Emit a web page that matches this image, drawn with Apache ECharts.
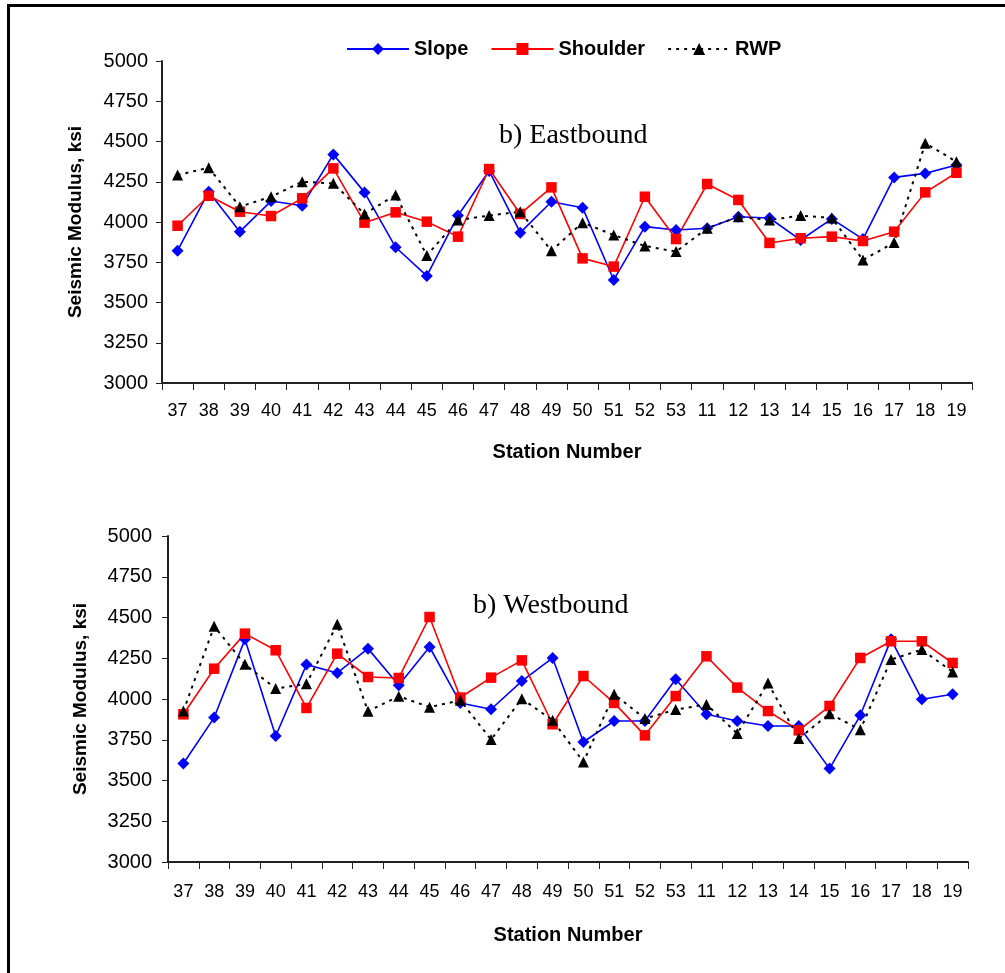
<!DOCTYPE html>
<html>
<head>
<meta charset="utf-8">
<script src="https://cdn.jsdelivr.net/npm/echarts@6/dist/echarts.min.js"></script>
<style>
  html, body { margin: 0; padding: 0; background: #fff; }
  #chart { width: 1005px; height: 973px; }
</style>
</head>
<body>
<div id="chart"></div>
<script>
// station labels along the x axis
let stations = ['37', '38', '39', '40', '41', '42', '43', '44', '45', '46', '47', '48', '49', '50', '51', '52', '53',
  '11', '12', '13', '14', '15', '16', '17', '18', '19']
let yTicks = [3000, 5000, 250] // min, max, interval

// Eastbound
let eastSlope = [3822, 4188, 3940, 4130, 4101, 4420, 4184, 3843, 3665, 4040, 4317, 3934, 4126, 4089, 3640, 3971, 3950,
  3961, 4033, 4025, 3888, 4019, 3894, 4277, 4302, 4354]
let eastShoulder = [3977, 4163, 4064, 4037, 4147, 4333, 3996, 4060, 4002, 3909, 4329, 4050, 4215, 3774, 3723, 4157, 3894,
  4236, 4137, 3870, 3899, 3909, 3882, 3940, 4184, 4306]
let eastRwp = [4292, 4337, 4095, 4157, 4250, 4240, 4050, 4168, 3792, 4012, 4040, 4064, 3822, 3996, 3919, 3851, 3816,
  3961, 4033, 4012, 4040, 4025, 3764, 3872, 4489, 4375]

// Westbound
let westSlope = [3604, 3886, 4366, 3773, 4211, 4160, 4309, 4085, 4319, 3976, 3937, 4110, 4252, 3736, 3865, 3865, 4121,
  3906, 3865, 3834, 3834, 3573, 3900, 4366, 3998, 4029]
let westShoulder = [3906, 4186, 4401, 4299, 3945, 4278, 4135, 4129, 4503, 4009, 4131, 4237, 3845, 4141, 3976, 3777, 4018,
  4262, 4070, 3926, 3808, 3957, 4252, 4354, 4354, 4221]
let westRwp = [3926, 4446, 4213, 4064, 4094, 4458, 3925, 4017, 3950, 3992, 3751, 4002, 3869, 3614, 4029, 3880, 3935,
  3967, 3788, 4098, 3757, 3910, 3812, 4242, 4303, 4166]

const FONT = 'Liberation Sans'
const axisColor = '#222'

function xAxisFor (gridIndex, nameGap, margin) {
  return {
    type: 'category',
    gridIndex: gridIndex,
    data: stations,
    boundaryGap: true,
    name: 'Station Number',
    nameLocation: 'middle',
    nameGap: nameGap,
    nameTextStyle: { fontFamily: FONT, fontSize: 20, fontWeight: 'bold', color: '#000' },
    axisLine: { lineStyle: { color: axisColor, width: 2 } },
    axisTick: { show: true, inside: false, length: 7, lineStyle: { color: axisColor, width: 1 } },
    axisLabel: { interval: 0, margin: margin, fontFamily: FONT, fontSize: 18, color: '#000' },
    splitLine: { show: false }
  }
}

function yAxisFor (gridIndex, nameGap, margin) {
  return {
    type: 'value',
    gridIndex: gridIndex,
    min: yTicks[0],
    max: yTicks[1],
    interval: yTicks[2],
    name: 'Seismic Modulus, ksi',
    nameLocation: 'middle',
    nameGap: nameGap,
    nameTextStyle: { fontFamily: FONT, fontSize: 19, fontWeight: 'bold', color: '#000' },
    axisLine: { show: true, lineStyle: { color: axisColor, width: 2 } },
    axisTick: { show: true, inside: false, length: 6, lineStyle: { color: axisColor, width: 1 } },
    axisLabel: {
      margin: margin,
      fontFamily: FONT,
      fontSize: 20,
      color: '#000',
      formatter: function (value) {
        return String(value)
      }
    },
    splitLine: { show: false }
  }
}

// one line series, style by name
function lineSeries (name, data, idx) {
  let s = {
    name: name,
    type: 'line',
    xAxisIndex: idx,
    yAxisIndex: idx,
    data: data,
    connectNulls: false
  }
  if (name === 'Slope') {
    s.symbol = 'diamond'
    s.symbolSize = 12
    s.itemStyle = { color: '#0000FF' }
    s.lineStyle = { color: '#0000FF', width: 1.6 }
  } else if (name === 'Shoulder') {
    s.symbol = 'rect'
    s.symbolSize = 10.5
    s.itemStyle = { color: '#FF0000' }
    s.lineStyle = { color: '#FF0000', width: 1.6 }
  } else {
    s.symbol = 'triangle'
    s.symbolSize = 11
    s.itemStyle = { color: '#000000' }
    s.lineStyle = { color: '#000000', width: 2, type: [3, 5] }
  }
  return s
}

let myChart = echarts.init(document.getElementById('chart'))
myChart.setOption({
  animation: false,
  backgroundColor: '#fff',
  graphic: [
    {
      type: 'rect',
      shape: { x: 8.5, y: 5.5, width: 1100, height: 1100 },
      style: { fill: 'none', stroke: '#000', lineWidth: 3 },
      silent: true
    }
  ],
  title: [
    {
      text: 'b) Eastbound',
      left: 494,
      top: 117,
      textStyle: { fontFamily: 'Liberation Serif', fontSize: 28, fontWeight: 'normal', color: '#000' }
    },
    {
      text: 'b) Westbound',
      left: 468,
      top: 587,
      textStyle: { fontFamily: 'Liberation Serif', fontSize: 28, fontWeight: 'normal', color: '#000' }
    }
  ],
  legend: {
    top: 34,
    left: 341,
    itemWidth: 62,
    itemHeight: 15,
    itemGap: 22,
    textStyle: { fontFamily: FONT, fontSize: 20, fontWeight: 'bold', color: '#000' },
    data: ['Slope', 'Shoulder', 'RWP']
  },
  grid: [
    { left: 162, right: 33, top: 61, height: 322, containLabel: false },
    { left: 168, right: 37, top: 536, height: 326, containLabel: false }
  ],
  xAxis: [xAxisFor(0, 59, 19), xAxisFor(1, 63, 21)],
  yAxis: [yAxisFor(0, 77, 14), yAxisFor(1, 78, 16)],
  series: [
    lineSeries('Slope', eastSlope, 0),
    lineSeries('Shoulder', eastShoulder, 0),
    lineSeries('RWP', eastRwp, 0),
    lineSeries('Slope', westSlope, 1),
    lineSeries('Shoulder', westShoulder, 1),
    lineSeries('RWP', westRwp, 1)
  ]
})
</script>
</body>
</html>
